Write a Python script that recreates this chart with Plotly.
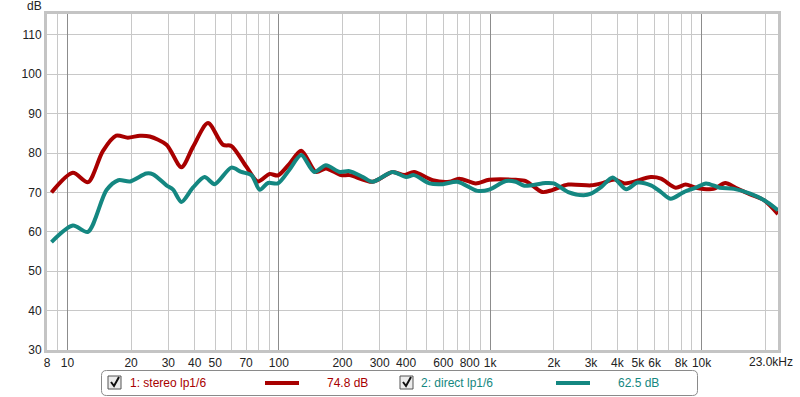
import plotly.graph_objects as go
import numpy as np

# ---------------- data ----------------
stereo_freq = [8.4, 10.6, 12.5, 14.7, 17.0, 19.3, 22.0, 24.5, 29.4, 34.6, 39.2, 46.2, 54.4, 59.6,
               70.1, 79.6, 90.4, 99, 112, 127.6, 150, 167, 197, 216, 278, 345, 392, 436, 534,
               640, 713, 855, 989, 1322, 1475, 1763, 1965, 2340, 3000, 3360, 3870, 4320, 5760,
               6430, 7550, 8400, 9400, 11400, 12950, 14500, 17000, 19800, 23000]
stereo_db = [70.0, 75.0, 72.6, 80.5, 84.4, 83.9, 84.4, 84.2, 82.1, 76.4, 81.5, 87.6, 82.1, 81.8,
             76.6, 72.8, 74.7, 74.3, 77.2, 80.6, 75.2, 76.1, 74.4, 74.4, 72.7, 75.2, 74.4, 75.2, 73.1,
             72.7, 73.5, 72.3, 73.2, 73.2, 72.9, 70.1, 70.6, 72.0, 71.8, 72.3, 73.3, 72.3, 73.9,
             73.5, 71.2, 72.0, 71.2, 70.9, 72.4, 71.2, 69.5, 68.0, 64.5]

direct_freq = [8.4, 10.6, 12.5, 15.3, 17.4, 19.8, 23.6, 25.4, 29.4, 31.6, 34.6, 39.2, 44.5, 49.7,
               59.6, 66.4, 74.2, 81.2, 88.9, 99, 112, 127.6, 147, 167, 194, 216, 250, 278, 345,
               400, 436, 516, 596, 700, 870, 989, 1186, 1322, 1450, 1830, 2000, 2340, 2770, 3000,
               3360, 3800, 4400, 4980, 5760, 6430, 7140, 8250, 9400, 10500, 12200, 14250, 17000,
               19800, 23000]
direct_db = [57.4, 61.6, 60.0, 70.6, 73.1, 72.8, 74.8, 74.6, 71.8, 70.7, 67.6, 71.2, 73.9, 72.1,
             76.3, 75.2, 74.4, 70.7, 72.4, 72.3, 75.7, 79.5, 75.2, 76.9, 75.2, 75.4, 73.9, 72.7, 75.2,
             73.9, 74.4, 72.3, 72.1, 72.7, 70.4, 70.7, 72.9, 72.7, 71.7, 72.4, 72.3, 70.1, 69.3, 69.7,
             71.4, 73.8, 70.8, 72.5, 71.8, 70.1, 68.4, 70.1, 71.2, 72.3, 71.2, 70.9, 69.7,
             68.0, 65.5]

series_names = ["1: stereo lp1/6", "2: direct lp1/6"]
series_levels = ["74.8 dB", "62.5 dB"]
series_colors = ["#a80000", "#148781"]

x_grid = [9] + [m * d for d in (10, 100, 1000) for m in range(1, 10)] + [10000, 20000]
x_labels = {8: "8", 10: "10", 20: "20", 30: "30", 40: "40", 50: "50", 70: "70", 100: "100",
            200: "200", 300: "300", 400: "400", 600: "600", 800: "800", 1000: "1k",
            2000: "2k", 3000: "3k", 4000: "4k", 5000: "5k", 6000: "6k", 8000: "8k", 10000: "10k"}
decades = [10, 100, 1000, 10000]
y_ticks = [30, 40, 50, 60, 70, 80, 90, 100, 110]

# ---------------- layout geometry ----------------
W, H = 800, 397
L, R, T, B = 47, 778, 14, 350
FONT = "Liberation Sans, Arial, sans-serif"


def px(xp):
    return (xp - L) / (R - L)


def py(yp):
    return (B - yp) / (B - T)


fig = go.Figure()
# dummy trace to activate xaxis2 (darker decade grid)
fig.add_trace(go.Scatter(x=[100], y=[None], xaxis="x2", mode="lines", hoverinfo="skip"))
for f, d, c, n in zip([stereo_freq, direct_freq], [stereo_db, direct_db], series_colors, series_names):
    fig.add_trace(go.Scatter(x=f, y=d, mode="lines", name=n,
                             line=dict(color=c, width=4, shape="spline", smoothing=0.8),
                             hoverinfo="skip"))

tickvals = [8] + x_grid
ticktext = [x_labels.get(v, "") for v in tickvals]

xr = [np.log10(8), np.log10(23000)]
fig.update_layout(
    template="none",
    width=W, height=H,
    margin=dict(l=L, r=W - R, t=T, b=H - B, pad=0),
    paper_bgcolor="white", plot_bgcolor="white",
    showlegend=False,
    font=dict(family=FONT, size=12, color="#222"),
    xaxis=dict(type="log", range=xr, tickvals=tickvals, ticktext=ticktext, automargin=False,
               showgrid=True, gridcolor="#c8c8c8", gridwidth=1, ticks="",
               showline=True, linecolor="#c4c4c4", linewidth=3, mirror=True,
               zeroline=False, tickfont=dict(size=12, color="#222")),
    xaxis2=dict(type="log", range=xr, overlaying="x", tickvals=decades, automargin=False,
                showticklabels=False, showgrid=True, gridcolor="#8c8c8c", gridwidth=1,
                ticks="", showline=False, zeroline=False),
    yaxis=dict(range=[30, 115.3], tickvals=y_ticks, showgrid=True, gridcolor="#c8c8c8",
               ticks="", showline=True, linecolor="#c4c4c4", linewidth=3, mirror=True,
               automargin=False, zeroline=False, tickfont=dict(size=12, color="#222")),
)

annotations = [
    dict(x=px(34), y=py(6), xref="paper", yref="paper", text="dB", showarrow=False,
         xanchor="center", yanchor="middle", font=dict(size=12, color="#222")),
    dict(x=px(771), y=py(362), xref="paper", yref="paper", text="23.0kHz", showarrow=False,
         xanchor="center", yanchor="middle", font=dict(size=12, color="#222")),
]
shapes = []

# legend box with rounded corners
x0, x1, y0, y1, r = 101.5, 697.5, 370.5, 395.5, 5
rx, ry = r / (R - L), r / (B - T)
X0, X1, Y0, Y1 = px(x0), px(x1), py(y0), py(y1)
path = (f"M {X0+rx},{Y0} L {X1-rx},{Y0} Q {X1},{Y0} {X1},{Y0-ry} "
        f"L {X1},{Y1+ry} Q {X1},{Y1} {X1-rx},{Y1} L {X0+rx},{Y1} Q {X0},{Y1} {X0},{Y1+ry} "
        f"L {X0},{Y0-ry} Q {X0},{Y0} {X0+rx},{Y0} Z")
shapes.append(dict(type="path", path=path, xref="paper", yref="paper",
                   line=dict(color="#8a8a8a", width=1), fillcolor="white", layer="above"))

entries = [(108, 128, 265, 299, 325), (400, 419, 556, 590, 616)]
for (cbx, tx, l0, l1, vx), name, lvl, col in zip(entries, series_names, series_levels, series_colors):
    # checkbox
    shapes.append(dict(type="rect", xref="paper", yref="paper",
                       x0=px(cbx), x1=px(cbx + 13), y0=py(376), y1=py(389),
                       line=dict(color="#555", width=1), fillcolor="#ececec", layer="above"))
    shapes.append(dict(type="path", xref="paper", yref="paper",
                       path=f"M {px(cbx+3)},{py(382)} L {px(cbx+6)},{py(386)} L {px(cbx+11)},{py(377)}",
                       line=dict(color="#111", width=2), layer="above"))
    annotations.append(dict(x=px(tx), y=py(383), xref="paper", yref="paper", text=name,
                            xanchor="left", yanchor="middle", showarrow=False,
                            font=dict(size=12, color=col)))
    shapes.append(dict(type="line", xref="paper", yref="paper", x0=px(l0), x1=px(l1),
                       y0=py(383), y1=py(383), line=dict(color=col, width=4), layer="above"))
    annotations.append(dict(x=px(vx), y=py(383), xref="paper", yref="paper", text=lvl,
                            xanchor="left", yanchor="middle", showarrow=False,
                            font=dict(size=12, color=col)))

fig.update_layout(annotations=annotations, shapes=shapes)
fig.write_html("out.html", config={"displayModeBar": False},
               post_script="document.body.style.margin='0';document.body.style.overflow='hidden';")
